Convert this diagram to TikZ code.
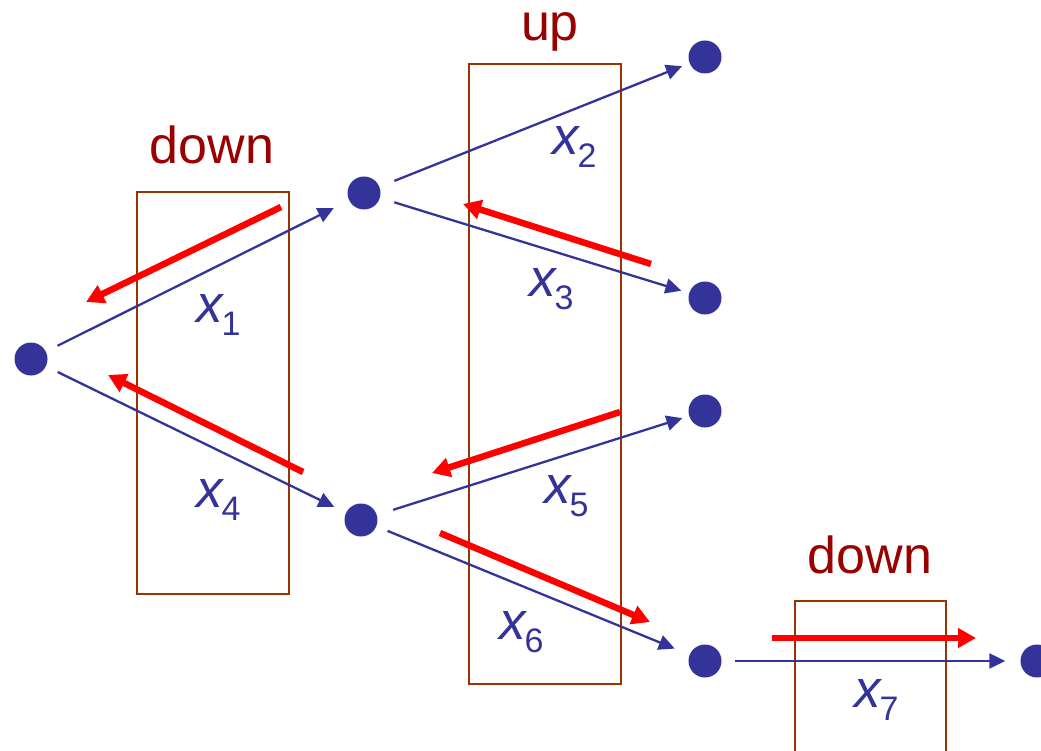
\documentclass[tikz,border=0pt]{standalone}
\usepackage{fontspec}
\setmainfont{Liberation Sans}
\usetikzlibrary{arrows.meta}
\definecolor{dotblue}{HTML}{333399}
\definecolor{boxbrown}{HTML}{993300}
\definecolor{lblred}{HTML}{990000}
\definecolor{arrred}{HTML}{FF0000}
\newcommand{\xlab}[1]{{\itshape x}\kern-1pt\raisebox{-13pt}{\fontsize{34}{34}\selectfont #1}}
\tikzset{
  dot/.style={circle, fill=dotblue, draw=none, inner sep=0pt, minimum size=33pt},
  edge/.style={draw=dotblue, line width=2.3pt, -{Triangle[length=16pt,width=15pt]}},
  back/.style={draw=arrred, line width=6.5pt, -{Triangle[length=18pt,width=19pt]}},
  brbox/.style={draw=boxbrown, line width=1.8pt},
  dirlabel/.style={text=lblred, inner sep=0pt, text height=28pt, text depth=11pt, font=\fontsize{52}{60}\selectfont},
  xlabel/.style={text=dotblue, inner sep=0pt, anchor=base west, font=\fontsize{53}{60}\selectfont}
}
\begin{document}
\begin{tikzpicture}[x=1pt,y=-1pt]
\useasboundingbox (0,0) rectangle (1041,751);
% boxes
\draw[brbox] (137,192) rectangle (289,594);
\draw[brbox] (469,64) rectangle (621,684);
\draw[brbox] (795,601) rectangle (946,770);
% direction labels
\node[dirlabel, anchor=base] (d1) at (212,164) {down};
\node[dirlabel, anchor=base] (u1) at (550,41) {up};
\node[dirlabel, anchor=base] (d2) at (870,573) {down};
% dots
\node[dot] (n0) at (31,359) {};
\node[dot] (n1) at (364,193) {};
\node[dot] (n2) at (705,57) {};
\node[dot] (n3) at (705,298) {};
\node[dot] (n4) at (361,520) {};
\node[dot] (n5) at (705,411) {};
\node[dot] (n6) at (705,661) {};
\node[dot] (n7) at (1037,661) {};
% edges
\draw[edge, shorten <=13pt, shorten >=17pt] (n0) -- (n1);
\draw[edge, shorten <=13pt, shorten >=13pt] (n0) -- (n4);
\draw[edge, shorten <=16pt, shorten >=8pt] (n1) -- (n2);
\draw[edge, shorten <=15pt, shorten >=8pt] (n1) -- (n3);
\draw[edge, shorten <=17pt, shorten >=7pt] (n4) -- (n5);
\draw[edge, shorten <=12pt, shorten >=16pt] (n4) -- (n6);
\draw[edge, shorten <=13pt, shorten >=15pt] (n6) -- (n7);
% edge labels
\node[xlabel] (x1) at (196,323) {\xlab{1}};
\node[xlabel] (x2) at (552,155) {\xlab{2}};
\node[xlabel] (x3) at (529,297) {\xlab{3}};
\node[xlabel] (x4) at (196,507) {\xlab{4}};
\node[xlabel] (x5) at (544,503) {\xlab{5}};
\node[xlabel] (x6) at (499,639) {\xlab{6}};
\node[xlabel] (x7) at (854,707) {\xlab{7}};
% red arrows
\coordinate (r1s) at (281,207); \coordinate (r1e) at (86,302);
\coordinate (r2s) at (303,472); \coordinate (r2e) at (108,375);
\coordinate (r3s) at (651,264); \coordinate (r3e) at (463,204);
\coordinate (r4s) at (620,412); \coordinate (r4e) at (432,473);
\coordinate (r5s) at (440,533); \coordinate (r5e) at (650,622);
\coordinate (r6s) at (772,638); \coordinate (r6e) at (976,638);
\draw[back] (r1s) -- (r1e);
\draw[back] (r2s) -- (r2e);
\draw[back] (r3s) -- (r3e);
\draw[back] (r4s) -- (r4e);
\draw[back] (r5s) -- (r5e);
\draw[back] (r6s) -- (r6e);
\end{tikzpicture}
\end{document}
